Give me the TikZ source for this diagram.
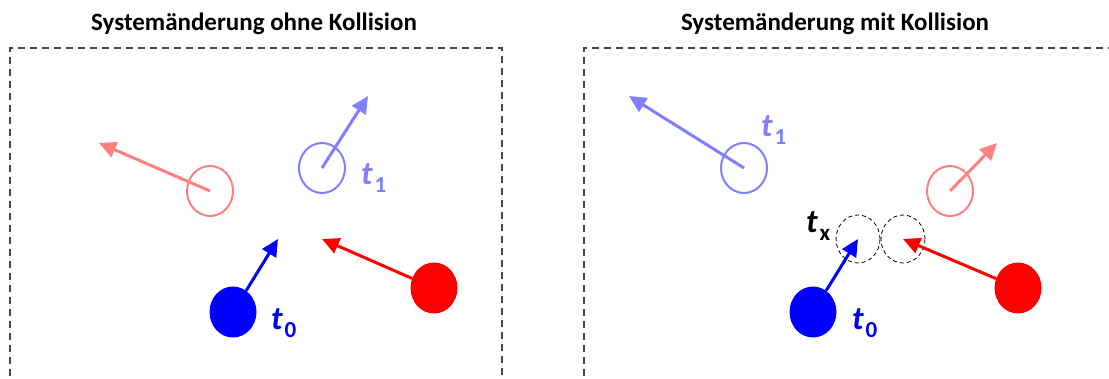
\documentclass[tikz,border=0pt]{standalone}
\usepackage{fontspec}
\setmainfont{Carlito}
\usetikzlibrary{arrows.meta,shapes.geometric}
\definecolor{lblue}{RGB}{128,128,255}
\definecolor{lred}{RGB}{255,128,128}
\definecolor{framegray}{RGB}{70,70,70}
\newcommand{\tlab}[1]{{\fontsize{33}{33}\selectfont\bfseries\itshape t}\kern2pt\raisebox{-8pt}{\fontsize{23}{23}\selectfont\bfseries #1}}
\begin{document}
\begin{tikzpicture}[x=1pt,y=-1pt,
  ghost/.style={ellipse, draw, line width=2pt, minimum width=46pt, minimum height=50pt, inner sep=0pt},
  ball/.style={ellipse, fill, minimum width=47pt, minimum height=51pt, inner sep=0pt},
  hit/.style={ellipse, draw=black, line width=0.8pt, dash pattern=on 4pt off 3pt, minimum width=44pt, minimum height=48pt, inner sep=0pt},
  vec/.style={line width=3pt, -{Triangle[length=17pt,width=16pt]}},
  panel/.style={draw=framegray, line width=1.1pt, dash pattern=on 7pt off 5pt},
  title/.style={font=\fontsize{25}{25}\selectfont\bfseries, inner sep=0pt},
  lab/.style={anchor=base west, inner sep=0pt}]
\clip (0,0) rectangle (1109,379);
\fill[white] (0,0) rectangle (1109,379);

% ---------- left panel ----------
\node[title] (T1) at (254,24) {Systemänderung ohne Kollision};
\draw[panel] (10,400) -- (10,48) -- (502,48) -- (502,400);

\node[ghost, draw=lred] (LR1) at (210,191) {};
\coordinate (LR1t) at (99,143);
\draw[vec, lred] (LR1.center) -- (LR1t);

\node[ghost, draw=lblue] (LB1) at (322,168) {};
\coordinate (LB1t) at (368,96);
\draw[vec, lblue] (LB1.center) -- (LB1t);
\node[lab, text=lblue] (LT1) at (361,185) {\tlab{1}};

\node[ball, fill=blue] (LB0) at (233,312) {};
\coordinate (LB0t) at (278,239);
\draw[vec, blue] (LB0) -- (LB0t);
\node[lab, text=blue] (LT0) at (271,330) {\tlab{0}};

\node[ball, fill=red] (LR0) at (434,288) {};
\coordinate (LR0t) at (322,239);
\draw[vec, red] (LR0) -- (LR0t);

% ---------- right panel ----------
\node[title] (T2) at (835,24) {Systemänderung mit Kollision};
\draw[panel] (584,400) -- (584,48) -- (1130,48);

\node[ghost, draw=lblue] (RB1) at (744,168) {};
\coordinate (RB1t) at (629,96);
\draw[vec, lblue] (RB1.center) -- (RB1t);
\node[lab, text=lblue] (RT1) at (761,137) {\tlab{1}};

\node[ghost, draw=lred] (RR1) at (950,191) {};
\coordinate (RR1t) at (997,143);
\draw[vec, lred] (RR1.center) -- (RR1t);

\node[hit] (HB) at (858,239) {};
\node[hit] (HR) at (903,239) {};
\node[lab, text=black] (TX) at (806,233) {\tlab{x}};

\node[ball, fill=blue] (RB0) at (813,312) {};
\draw[vec, blue] (RB0) -- (HB.center);
\node[lab, text=blue] (RT0) at (852,330) {\tlab{0}};

\node[ball, fill=red] (RR0) at (1018,288) {};
\draw[vec, red] (RR0) -- (HR.center);
\end{tikzpicture}
\end{document}
